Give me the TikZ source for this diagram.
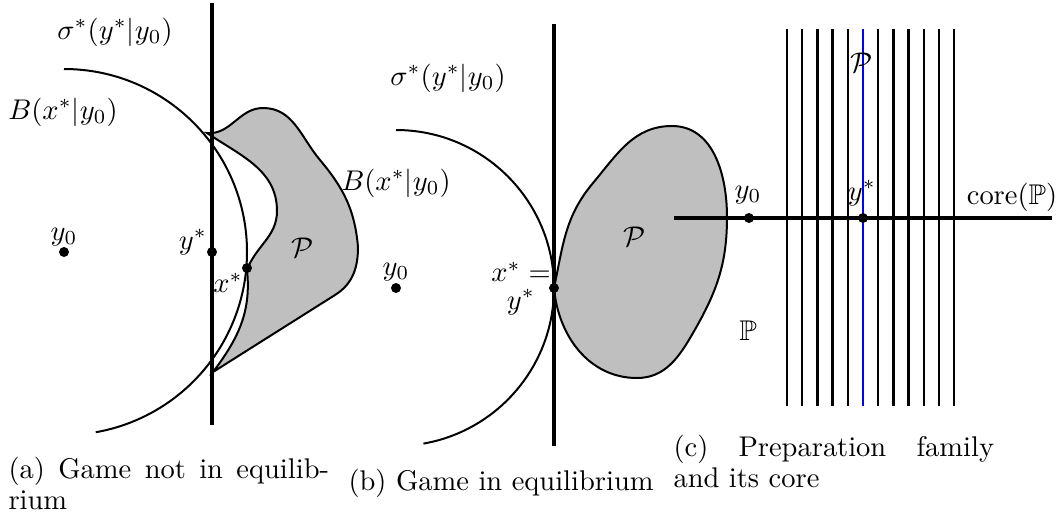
\documentclass[tikz,border=0pt]{standalone}
\usepackage{amsmath, amssymb}
\usepackage{tikz}
\usetikzlibrary{positioning}

\begin{document}
\begin{tikzpicture}[x=0.351pt, y=-0.351pt,
  lbl/.style={inner sep=0pt},
  dot/.style={circle, fill, inner sep=0pt, minimum size=3.5pt},
  wall/.style={line width=1.15pt},
  ball/.style={line width=0.7pt},
  region/.style={draw, line width=0.7pt, fill=black!25},
  fam/.style={line width=0.9pt},
  subcap/.style={inner sep=0pt, anchor=base west, text width=112.5pt, align=justify,
    font=\fontsize{10}{10.9}\selectfont}]
\useasboundingbox (0,0) rectangle (1063,521);

% (a) game not in equilibrium
\coordinate (ya0) at (64,252);
\draw[region] (207,133) to[out=-5,in=180] (263,108) to[out=0,in=130] (320,160)
  to[out=-50,in=95] (358,247) to[out=-90,in=32] (335,295) -- (213,372)
  to[out=53,in=-84] (247,270) to[out=70,in=-90] (277,211) to[out=90,in=-34] (207,133)
  -- cycle;
\draw[ball] (ya0) ++(0,-183) arc[start angle=-90, end angle=80, radius=183];
\draw[wall] (212,3) -- (212,425);
\node[dot] (dya0) at (ya0) {};
\node[dot] (dysa) at (212,252) {};
\node[dot] (dxsa) at (247,268) {};
\node[lbl] (siga) at (115,32) {$\sigma^*(y^*|y_0)$};
\node[lbl] (balla) at (63,112) {$B(x^*|y_0)$};
\node[lbl] (ballb) at (396,183) {$B(x^*|y_0)$};
\node[lbl] (lya0) at (64,237) {$y_0$};
\node[lbl] (lysa) at (193,242) {$y^*$};
\node[lbl] (lxsa) at (228,283) {$x^*$};
\node[lbl] (pa) at (303,248) {$\mathcal{P}$};

% (b) game in equilibrium
\coordinate (yb0) at (396,288);
\draw[region] (554,288) to[out=78,in=230] (593,183) to[out=50,in=180] (672,126)
  to[out=0,in=90] (727,217) to[out=-90,in=60] (693,333) to[out=-120,in=0] (637,378)
  to[out=180,in=-85] (554,288) -- cycle;
\draw[ball] (yb0) ++(0,-158) arc[start angle=-90, end angle=80, radius=158];
\draw[wall] (554,24) -- (554,446);
\node[dot] (dyb0) at (yb0) {};
\node[dot] (dxyb) at (554,288) {};
\node[lbl] (sigb) at (448,78) {$\sigma^*(y^*|y_0)$};
\node[lbl] (lyb0) at (396,272) {$y_0$};
\node[lbl] (lxeq) at (521,272) {$x^*=$};
\node[lbl] (lysb) at (521,302) {$y^*$};
\node[lbl] (pb) at (635,237) {$\mathcal{P}$};

% (c) preparation family and its core
\foreach \i in {0,...,11}
  \draw[fam] ({787+15.2*\i},29) -- ({787+15.2*\i},406);
\draw[fam, blue] (863,29) -- (863,406);
\draw[line width=1.5pt] (674,218) -- (1052,218);
\node[dot] (dyc0) at (749,218) {};
\node[dot] (dysc) at (863,218) {};
\node[lbl] (lyc0) at (748,195) {$y_0$};
\node[lbl] (lysc) at (862,193) {$y^*$};
\node[lbl] (core) at (1012,197) {$\mathrm{core}(\mathbb{P})$};
\node[lbl] (pc) at (862,63) {$\mathcal{P}$};
\node[lbl] (bbp) at (748,331) {$\mathbb{P}$};

% captions
\node[subcap] (capa) at (8,478) {(a) Game not in equilib-\linebreak rium};
\node[lbl, anchor=base west] (capb) at (348,490) {(b) Game in equilibrium};
\node[subcap] (capc) at (673,456) {(c) Preparation family\linebreak and its core};
\end{tikzpicture}
\end{document}
